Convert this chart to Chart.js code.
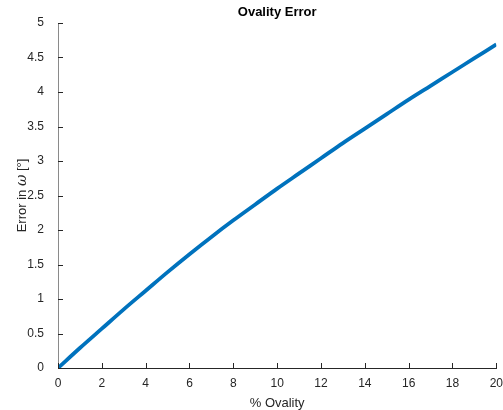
<!DOCTYPE html>
<html>
<head>
<meta charset="utf-8">
<script src="https://cdn.jsdelivr.net/npm/chart.js@4"></script>
<style>
  html, body { margin: 0; padding: 0; background: #fff; }
  #wrap { width: 503px; height: 410px; }
</style>
</head>
<body>
<div id="wrap"><canvas id="ovalityChart" width="503" height="410"></canvas></div>
<script>
// percent ovality vs. error in omega (degrees)
const ovality = [0, 1, 2, 3, 4, 5, 6, 7, 8, 9, 10, 11, 12, 13, 14, 15, 16, 17, 18, 19, 20];
const omegaError = [0, 0.29, 0.57, 0.85, 1.12, 1.39, 1.65, 1.90, 2.14, 2.37, 2.60,
                    2.82, 3.04, 3.26, 3.47, 3.68, 3.89, 4.09, 4.29, 4.49, 4.69];
const xTicks = [0, 2, 4, 6, 8, 10, 12, 14, 16, 18, 20];
const yTicks = [0, 0.5, 1, 1.5, 2, 2.5, 3, 3.5, 4, 4.5, 5];

const axisColor = '#262626';
const FONT = 'Arial, "Liberation Sans", Helvetica, sans-serif';

// inward tick marks + title / axis labels (matlab look)
const matlabAxes = {
    id: 'matlabAxes',
    afterDraw(chart) {
        const ctx = chart.ctx;
        const xs = chart.scales.x, ys = chart.scales.y;
        const area = chart.chartArea;
        ctx.save();
        ctx.strokeStyle = axisColor;
        ctx.lineWidth = 1;
        ctx.beginPath();
        xTicks.forEach(v => {
            const px = Math.round(xs.getPixelForValue(v)) + 0.5;
            ctx.moveTo(px, area.bottom);
            ctx.lineTo(px, area.bottom - 5);
        });
        yTicks.forEach(v => {
            const py = Math.round(ys.getPixelForValue(v)) + 0.5;
            ctx.moveTo(area.left, py);
            ctx.lineTo(area.left + 5, py);
        });
        ctx.stroke();

        const cx = (area.left + area.right) / 2;
        ctx.fillStyle = '#000';
        ctx.font = 'bold 13px ' + FONT;
        ctx.textAlign = 'center';
        ctx.textBaseline = 'alphabetic';
        ctx.fillText('Ovality Error', cx, 16);

        ctx.fillStyle = axisColor;
        ctx.font = '13px ' + FONT;
        ctx.textBaseline = 'middle';
        ctx.fillText('% Ovality', cx, 403);

        // y label with italic omega
        const parts = [
            { t: 'Error in ', f: '13px ' + FONT },
            { t: '\u03C9', f: 'italic 14px "DejaVu Serif", serif' },
            { t: ' [\u00B0]', f: '13px ' + FONT }
        ];
        let total = 0;
        parts.forEach(p => { ctx.font = p.f; p.w = ctx.measureText(p.t).width; total += p.w; });
        ctx.translate(22, (area.top + area.bottom) / 2);
        ctx.rotate(-Math.PI / 2);
        ctx.textAlign = 'left';
        let x = -total / 2;
        parts.forEach(p => { ctx.font = p.f; ctx.fillText(p.t, x, 0); x += p.w; });
        ctx.restore();
    }
};

new Chart(document.getElementById('ovalityChart'), {
    type: 'line',
    data: {
        datasets: [{
            data: ovality.map((v, i) => ({ x: v, y: omegaError[i] })),
            borderColor: '#0072BD',
            borderWidth: 3.8,
            pointRadius: 0,
            cubicInterpolationMode: 'monotone',
            fill: false
        }]
    },
    options: {
        responsive: false,
        animation: false,
        layout: { padding: { top: 23, right: 2, left: 0, bottom: 0 } },
        plugins: { legend: { display: false }, title: { display: false }, tooltip: { enabled: false } },
        scales: {
            x: {
                type: 'linear', min: 0, max: 20,
                afterBuildTicks: s => { s.ticks = xTicks.map(v => ({ value: v })); },
                afterFit: s => { s.height = 42; },
                grid: { display: false },
                border: { display: true, color: axisColor, width: 1 },
                ticks: { color: axisColor, font: { size: 12, family: FONT }, padding: 0, maxRotation: 0,
                         callback: v => String(v) }
            },
            y: {
                type: 'linear', min: 0, max: 5,
                afterBuildTicks: s => { s.ticks = yTicks.map(v => ({ value: v })); },
                afterFit: s => { s.width = 58; },
                grid: { display: false },
                border: { display: true, color: '#8a8a8a', width: 1 },
                ticks: { color: axisColor, font: { size: 12, family: FONT }, padding: 6,
                         callback: v => String(v) }
            }
        }
    },
    plugins: [matlabAxes]
});
</script>
</body>
</html>
